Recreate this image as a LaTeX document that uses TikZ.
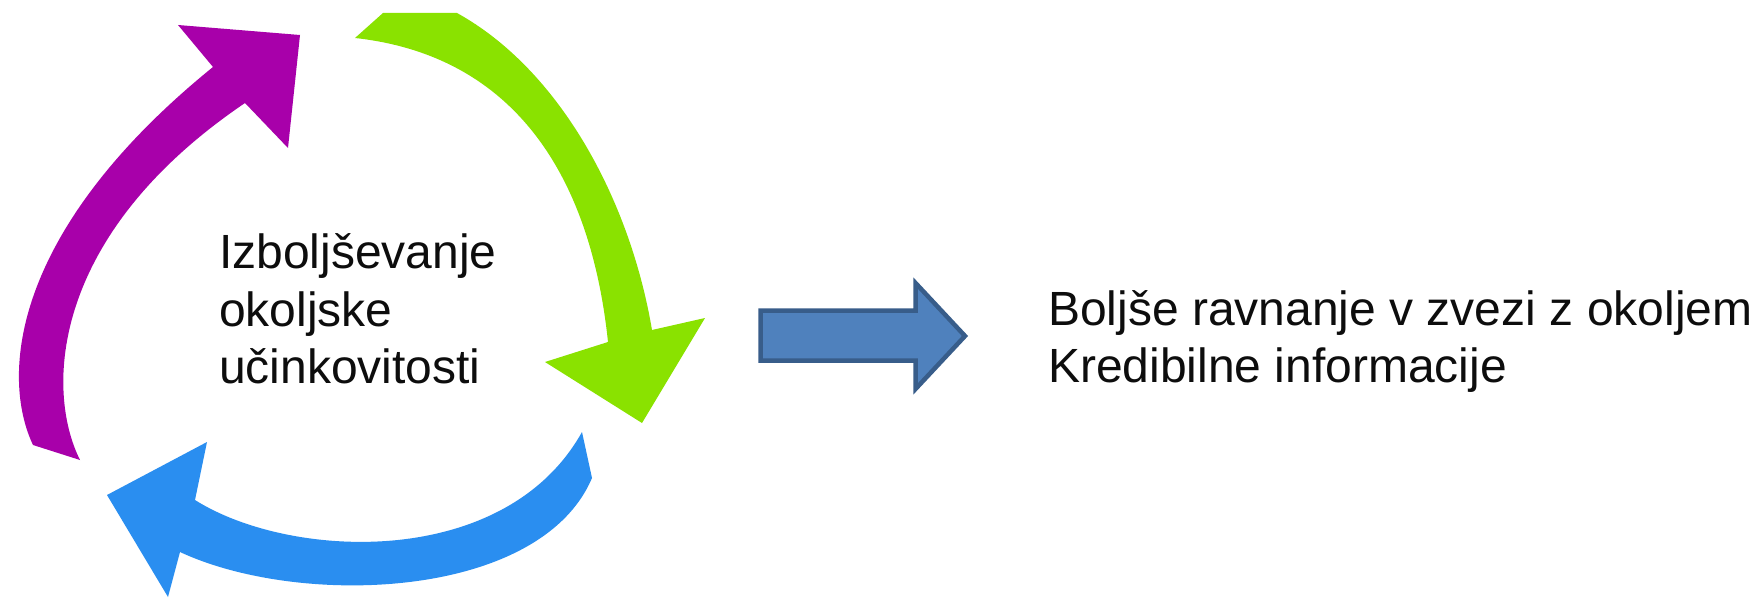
\documentclass[tikz,border=0pt]{standalone}
\usepackage{fontspec}
\setmainfont{Liberation Sans}
\definecolor{cycpurple}{RGB}{168,0,170}
\definecolor{cycgreen}{RGB}{138,226,0}
\definecolor{cycblue}{RGB}{42,142,240}
\definecolor{barfill}{RGB}{79,129,189}
\definecolor{barline}{RGB}{56,93,138}
\definecolor{txt}{RGB}{13,13,13}
\begin{document}
\begin{tikzpicture}[x=1pt,y=-1pt,
  lbl/.style={anchor=base west,inner sep=0pt,text=txt,font=\fontsize{48}{57.5}\selectfont}]
\useasboundingbox[fill=white] (0,0) rectangle (1756,599);
% purple arrow
\fill[cycpurple] (80,460) -- (33,445)
  .. controls (0,375) and (12,230) .. (213,67)
  -- (178,25) -- (300,35) -- (288,148) -- (245,103)
  .. controls (50,235) and (45,390) .. (80,460)
  -- cycle;
% green arrow
\fill[cycgreen] (355,38) -- (383,13) -- (457,13)
  .. controls (560,70) and (630,200) .. (652,330)
  -- (705,318) -- (642,423) -- (545,362) -- (608,342)
  .. controls (590,170) and (510,55) .. (355,38)
  -- cycle;
% blue arrow
\fill[cycblue] (582,432) -- (592,478)
  .. controls (540,600) and (300,608) .. (180,552)
  -- (168,597) -- (107,495) -- (207,442) -- (195,500)
  .. controls (290,560) and (505,570) .. (582,432)
  -- cycle;
% block arrow
\filldraw[fill=barfill,draw=barline,line width=4.5pt,line join=miter]
  (760.5,310.5) -- (915.5,310.5) -- (915.5,283) -- (965,336) -- (915.5,389) -- (915.5,360.5) -- (760.5,360.5) -- cycle;
% texts
\node[lbl] (l1) at (219,268) {Izboljševanje};
\node[lbl] (l2) at (219,326) {okoljske};
\node[lbl] (l3) at (219,383) {učinkovitosti};
\node[lbl] (r1) at (1048,325) {Boljše ravnanje v zvezi z okoljem};
\node[lbl] (r2) at (1048,382) {Kredibilne informacije};
\end{tikzpicture}
\end{document}
